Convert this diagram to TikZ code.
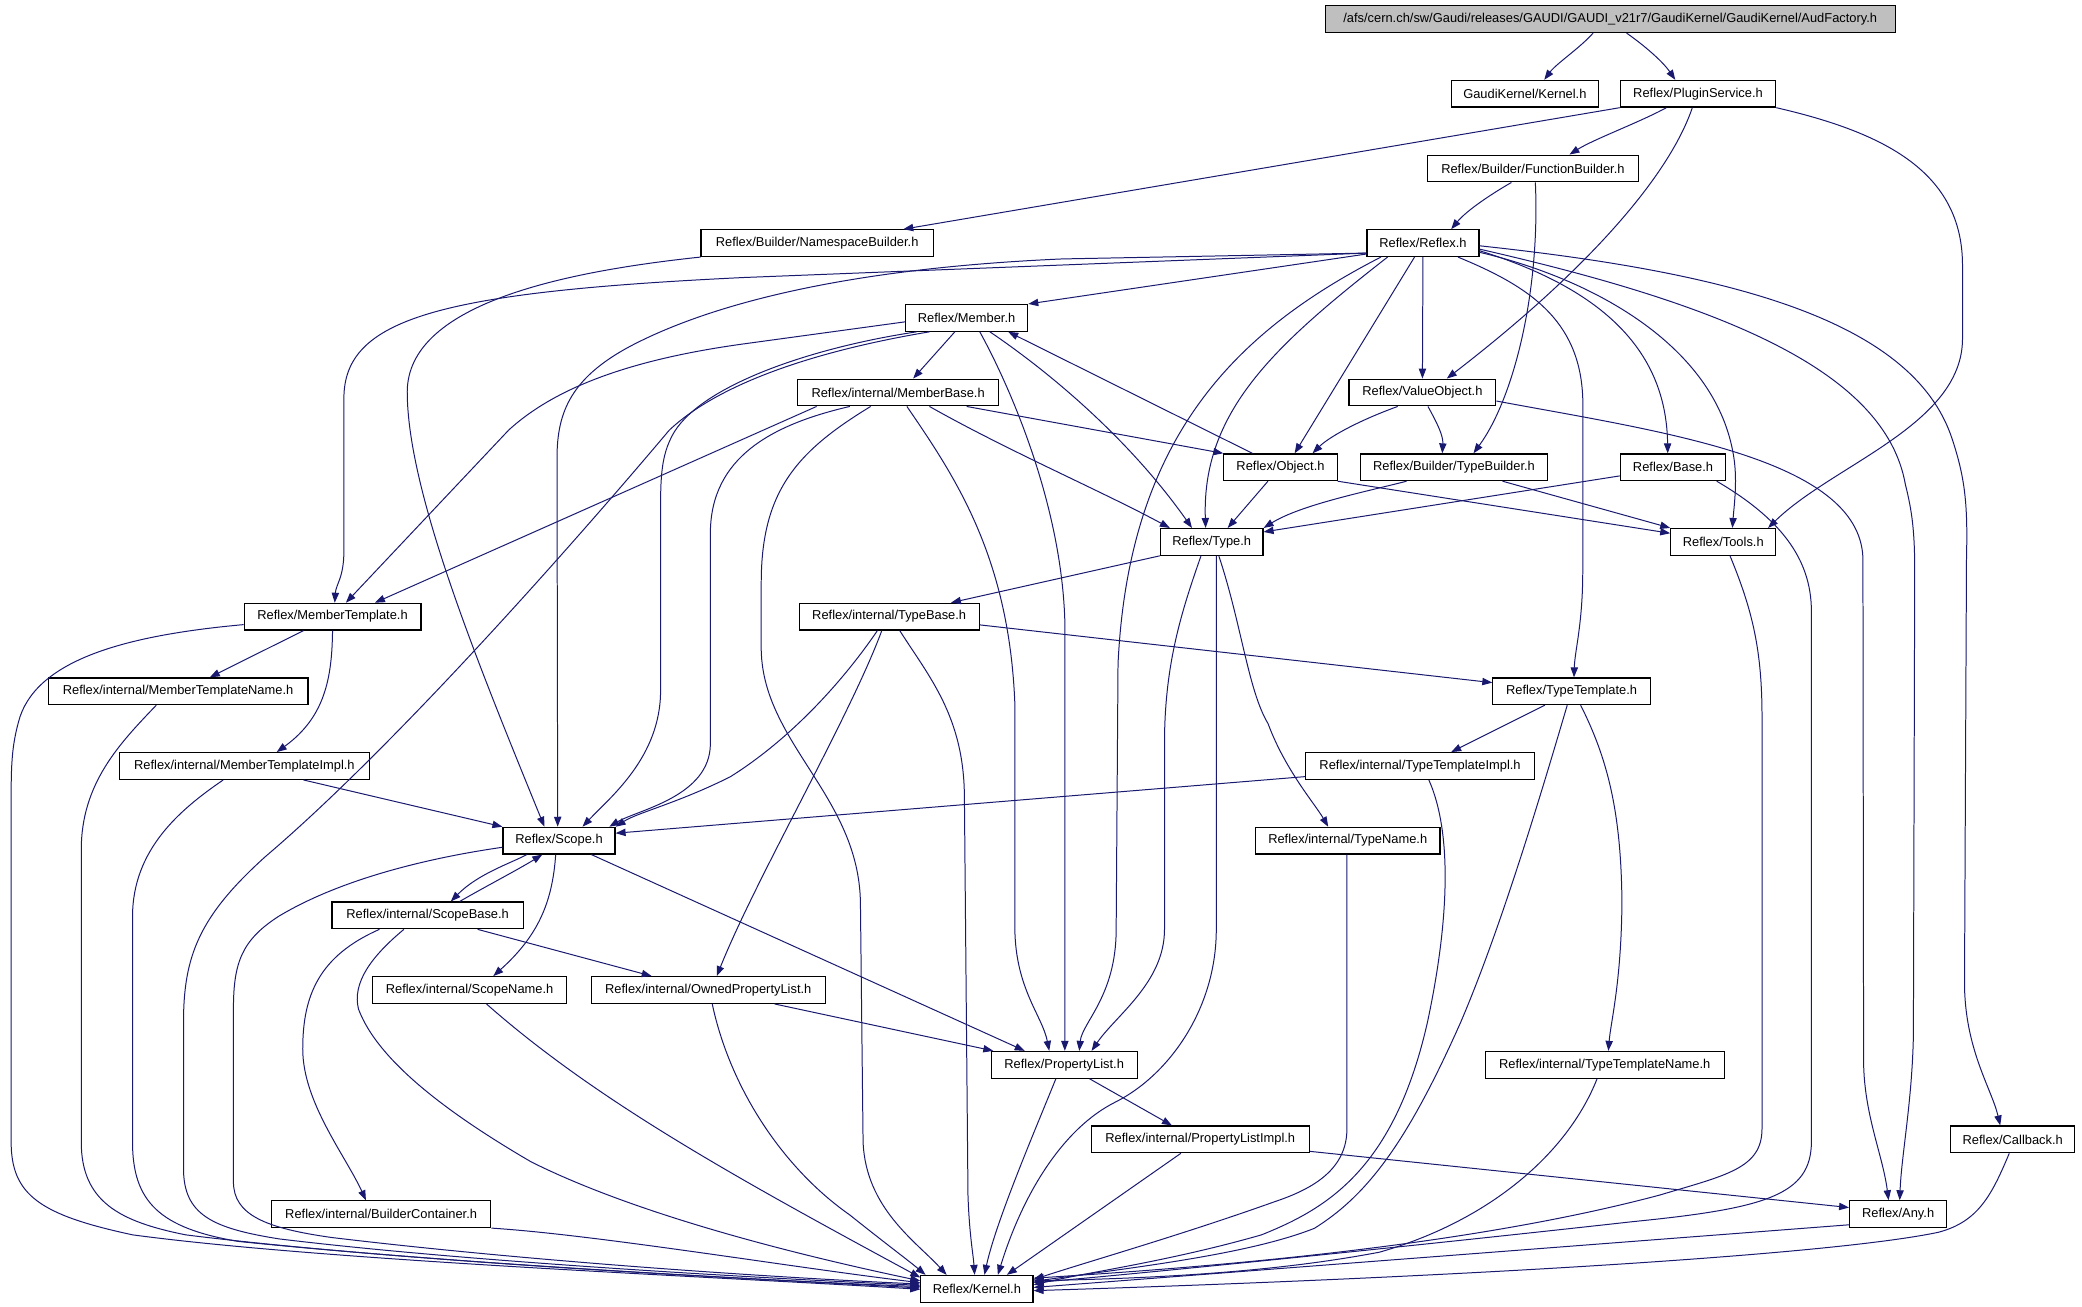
\documentclass[tikz,border=0pt]{standalone}
\usepackage{fontspec}
\newfontfamily\lblfont{Liberation Sans}
\usetikzlibrary{arrows.meta}
\definecolor{edgeblue}{RGB}{25,25,112}
\definecolor{rootgray}{RGB}{191,191,191}
\begin{document}
\begin{tikzpicture}[x=1pt,y=-1pt,
  box/.style={draw=black,line width=0.9pt,fill=white,inner sep=0pt,minimum height=20.1pt,
    font=\lblfont\fontsize{9.7}{11}\selectfont,text=black},
  e/.style={draw=edgeblue,line width=0.75pt,-{Triangle[length=7.5pt,width=5.5pt]},fill=none}]
\useasboundingbox (0,0) rectangle (1568,983.6);
\fill[white] (0,0) rectangle (1568,983.6);
% nodes
\node[box,minimum width=429.4pt,fill=rootgray] (aud) at (1212.7,14.4) {/afs/cern.ch/sw/Gaudi/releases/GAUDI/GAUDI\_v21r7/GaudiKernel/GaudiKernel/AudFactory.h};
\node[box,minimum width=111pt] (gk) at (1148.4,70.6) {GaudiKernel/Kernel.h};
\node[box,minimum width=117pt] (plugin) at (1278.8,70.6) {Reflex/PluginService.h};
\node[box,minimum width=158.7pt] (fb) at (1154.45,126.9) {Reflex/Builder/FunctionBuilder.h};
\node[box,minimum width=174.8pt] (nb) at (615.4,183.1) {Reflex/Builder/NamespaceBuilder.h};
\node[box,minimum width=84.3pt] (reflex) at (1071.65,183.1) {Reflex/Reflex.h};
\node[box,minimum width=92.1pt] (member) at (727.95,239.4) {Reflex/Member.h};
\node[box,minimum width=151.6pt] (mbase) at (676.4,295.6) {Reflex/internal/MemberBase.h};
\node[box,minimum width=110.5pt] (vobj) at (1071.25,295.6) {Reflex/ValueObject.h};
\node[box,minimum width=85.3pt] (object) at (964.35,351.9) {Reflex/Object.h};
\node[box,minimum width=141pt] (tbuilder) at (1095,351.9) {Reflex/Builder/TypeBuilder.h};
\node[box,minimum width=79.4pt] (base) at (1260,351.9) {Reflex/Base.h};
\node[box,minimum width=77.3pt] (type) at (912.55,408.1) {Reflex/Type.h};
\node[box,minimum width=79pt] (tools) at (1297.8,408.1) {Reflex/Tools.h};
\node[box,minimum width=133.1pt] (mtempl) at (250.45,464.4) {Reflex/MemberTemplate.h};
\node[box,minimum width=135.5pt] (tbase) at (669.65,464.4) {Reflex/internal/TypeBase.h};
\node[box,minimum width=195.6pt] (mtname) at (134.1,520.6) {Reflex/internal/MemberTemplateName.h};
\node[box,minimum width=118.5pt] (ttempl) at (1183.55,520.6) {Reflex/TypeTemplate.h};
\node[box,minimum width=188.5pt] (mtimpl) at (184.05,576.9) {Reflex/internal/MemberTemplateImpl.h};
\node[box,minimum width=172.7pt] (ttimpl) at (1069.45,576.9) {Reflex/internal/TypeTemplateImpl.h};
\node[box,minimum width=84.4pt] (scope) at (421,633.1) {Reflex/Scope.h};
\node[box,minimum width=139pt] (tname) at (1015,633.1) {Reflex/internal/TypeName.h};
\node[box,minimum width=143.9pt] (sbase) at (322.05,689.4) {Reflex/internal/ScopeBase.h};
\node[box,minimum width=146.5pt] (sname) at (353.65,745.6) {Reflex/internal/ScopeName.h};
\node[box,minimum width=176pt] (opl) at (533.4,745.6) {Reflex/internal/OwnedPropertyList.h};
\node[box,minimum width=109.9pt] (plist) at (801.45,801.9) {Reflex/PropertyList.h};
\node[box,minimum width=180.1pt] (ttname) at (1208.55,801.9) {Reflex/internal/TypeTemplateName.h};
\node[box,minimum width=164.3pt] (plimpl) at (903.95,858.1) {Reflex/internal/PropertyListImpl.h};
\node[box,minimum width=93.4pt] (callback) at (1515.8,858.1) {Reflex/Callback.h};
\node[box,minimum width=165.3pt] (bcont) at (287.05,914.4) {Reflex/internal/BuilderContainer.h};
\node[box,minimum width=73.1pt] (any) at (1429.55,914.4) {Reflex/Any.h};
\node[box,minimum width=84.5pt] (kernel) at (735.75,970.6) {Reflex/Kernel.h};
% edges
\path[e] ([xshift=-12.9pt]aud.south) .. controls (1190,36) and (1172,48) .. ([xshift=14.6pt]gk.north);
\path[e] ([xshift=12.3pt]aud.south) .. controls (1238,34) and (1252,46) .. ([xshift=-17.1pt]plugin.north);
\path[e] (plugin.south west) -- ([xshift=64.9pt]nb.north);
\path[e] ([xshift=-23.8pt]plugin.south) .. controls (1235,92) and (1200,105) .. ([xshift=27.55pt]fb.north);
\path[e] ([xshift=-4.3pt]plugin.south) .. controls (1258,130) and (1200,200) .. ([xshift=18.35pt]vobj.north);
\path[e] (plugin.south east) .. controls (1420,100) and (1478,130) .. (1478,200) -- (1478,255) .. controls (1478,320) and (1380,350) .. ([xshift=33.8pt]tools.north);
\path[e] ([xshift=-16.15pt]fb.south) .. controls (1125,145) and (1105,158) .. ([xshift=21.25pt]reflex.north);
\path[e] ([xshift=1.85pt]fb.south) .. controls (1160,220) and (1140,300) .. ([xshift=14.7pt]tbuilder.north);
\path[e] (nb.south west) .. controls (420,205) and (307,230) .. (306.7,295) .. controls (306.7,370) and (360,500) .. ([xshift=-11pt]scope.north);
% Reflex.h
\path[e] ([yshift=3pt]reflex.south west) -- (560,209) .. controls (330,220) and (259,240) .. (259,300) -- (259,415) .. controls (259,435) and (253,440) .. ([xshift=1.65pt]mtempl.north);
\path[e] ([yshift=3pt]reflex.south west) -- (800,195) .. controls (640,202) and (540,228) .. (480,258) .. controls (430,283) and (419.5,310) .. (419.5,345) -- ([xshift=-1pt]scope.north);
\path[e] ([yshift=2.3pt]reflex.south west) -- (member.north east);
\path[e] ([xshift=-26.65pt]reflex.south) .. controls (960,260) and (905,310) .. ([xshift=-4.55pt]type.north);
\path[e] ([xshift=-31.65pt]reflex.south) .. controls (930,250) and (850,330) .. (842,500) -- (840.6,700) .. controls (840.6,750) and (815,770) .. ([xshift=11.35pt]plist.north);
\path[e] ([xshift=-6.35pt]reflex.south) -- ([xshift=10.65pt]object.north);
\path[e] (reflex.south) -- (vobj.north);
\path[e] ([xshift=26.35pt]reflex.south) .. controls (1150,215) and (1190,240) .. (1192,300) -- (1192,430) .. controls (1192,470) and (1186,490) .. ([xshift=1.85pt]ttempl.north);
\path[e] ([yshift=-5.7pt]reflex.east) .. controls (1215,220) and (1255,270) .. ([xshift=-4pt]base.north);
\path[e] ([yshift=-6.9pt]reflex.east) .. controls (1200,210) and (1290,260) .. (1305,340) .. controls (1309,360) and (1306,380) .. ([xshift=6.9pt]tools.north);
\path[e] ([yshift=-4.5pt]reflex.east) .. controls (1300,230) and (1420,280) .. (1435,365) .. controls (1440,385) and (1442,400) .. (1442,430) -- (1441,780) .. controls (1440,830) and (1432,870) .. ([xshift=1.15pt]any.north);
\path[e] ([yshift=-2pt]reflex.east) .. controls (1300,205) and (1440,240) .. (1470,330) .. controls (1480,360) and (1482,380) .. (1481,420) -- (1479.5,740) .. controls (1479.5,790) and (1500,820) .. ([xshift=-9.4pt]callback.north);
% Member.h
\path[e] ([yshift=-3pt]member.west) -- (560,259) .. controls (480,270) and (420,290) .. (383,324) -- ([xshift=10.05pt]mtempl.north);
\path[e] ([xshift=-37.65pt]member.south) .. controls (610,262) and (530,290) .. (508,325) .. controls (499,340) and (497.5,355) .. (497.5,380) -- (497.5,520) .. controls (497.5,570) and (460,600) .. ([xshift=17.7pt]scope.north);
\path[e] ([xshift=-27.95pt]member.south) .. controls (610,265) and (540,290) .. (504,324) .. controls (440,400) and (300,560) .. (200,645) .. controls (150,690) and (138.2,720) .. (138.2,770) -- (138.2,880) .. controls (138.2,915) and (160,925) .. (210,933) .. controls (350,950) and (560,962) .. ([yshift=2.6pt]kernel.west);
\path[e] ([xshift=-8.85pt]member.south) -- ([xshift=11.3pt]mbase.north);
\path[e] ([xshift=9.95pt]member.south) .. controls (760,290) and (800,380) .. (802,470) -- ([xshift=0.5pt]plist.north);
\path[e] ([xshift=17.55pt]member.south) .. controls (790,280) and (850,330) .. ([xshift=-14.85pt]type.north);
% Object.h
\path[e] ([xshift=-21.15pt]object.north) -- ([xshift=31.35pt]member.south);
\path[e] ([xshift=-9.45pt]object.south) -- ([xshift=12.05pt]type.north);
\path[e] (object.south east) -- ([yshift=-4pt]tools.north west);
% MemberBase.h
\path[e] ([xshift=-61.4pt]mbase.south) -- ([xshift=31.95pt]mtempl.north);
\path[e] ([xshift=-36.4pt]mbase.south) .. controls (580,320) and (536,345) .. (535,400) -- (535,560) .. controls (535,600) and (480,610) .. ([xshift=37.9pt]scope.north);
\path[e] ([xshift=-20.7pt]mbase.south) .. controls (600,340) and (573,370) .. (573.3,440) -- (573.3,490) .. controls (575,560) and (647,600) .. (648,680) -- (650,860) .. controls (652,910) and (690,935) .. ([xshift=-22.85pt]kernel.north);
\path[e] ([xshift=6.6pt]mbase.south) .. controls (720,360) and (760,420) .. (764.3,530) -- (764.3,700) .. controls (765,745) and (785,765) .. ([xshift=-11.25pt]plist.north);
\path[e] ([xshift=23.6pt]mbase.south) .. controls (760,340) and (830,370) .. ([xshift=-31.55pt]type.north);
\path[e] ([xshift=51.6pt]mbase.south) -- (object.north west);
% ValueObject.h
\path[e] ([xshift=-18.65pt]vobj.south) .. controls (1020,318) and (1000,330) .. ([xshift=24.15pt]object.north);
\path[e] ([xshift=4.15pt]vobj.south) .. controls (1082,318) and (1087,328) .. ([xshift=-8.8pt]tbuilder.north);
\path[e] ([yshift=-6.4pt]vobj.east) .. controls (1250,325) and (1400,345) .. (1403,420) -- (1403.5,800) .. controls (1404,840) and (1418,870) .. ([xshift=-7.25pt]any.north);
% TypeBuilder.h, Base.h, Tools.h
\path[e] ([xshift=-35.7pt]tbuilder.south) .. controls (1030,370) and (980,380) .. (type.north east);
\path[e] ([xshift=36.6pt]tbuilder.south) -- (tools.north west);
\path[e] ([yshift=-6.5pt]base.west) -- ([yshift=-3pt]type.north east);
\path[e] ([xshift=32.9pt]base.south) .. controls (1340,390) and (1364,420) .. (1364.2,460) -- (1364.2,860) .. controls (1364,900) and (1330,910) .. (1230,920) .. controls (1050,940) and (850,960) .. ([yshift=4.6pt]kernel.east);
\path[e] ([xshift=5.1pt]tools.south) .. controls (1320,460) and (1327,490) .. (1327,540) -- (1327,850) .. controls (1327,880) and (1300,885) .. (1250,900) .. controls (1100,940) and (900,955) .. ([yshift=8pt]kernel.east);
% Type.h
\path[e] (type.south west) -- ([xshift=46.55pt]tbase.north);
\path[e] ([xshift=-8.05pt]type.south) .. controls (890,460) and (877,500) .. (877,560) -- (877,700) .. controls (877,740) and (840,765) .. ([xshift=20.65pt]plist.north);
\path[e] ([xshift=3.45pt]type.south) -- (916,700) .. controls (916,760) and (880,810) .. (840,830) .. controls (800,850) and (770,900) .. ([xshift=15.75pt]kernel.north);
\path[e] ([xshift=5.35pt]type.south) .. controls (935,470) and (940,520) .. (955,545) .. controls (968,580) and (990,605) .. ([xshift=-14.7pt]tname.north);
\path[e] ([xshift=-0.6pt]tname.south) -- (1014.4,850) .. controls (1014.4,880) and (990,895) .. (960,905) .. controls (890,930) and (820,950) .. ([yshift=7pt]kernel.east);
% TypeBase.h
\path[e] ([yshift=-6.2pt]tbase.east) -- ([yshift=-4pt]ttempl.north west);
\path[e] ([xshift=-8.85pt]tbase.south) .. controls (630,520) and (590,560) .. (550,585) .. controls (510,605) and (480,612) .. (scope.north east);
\path[e] ([xshift=-5.55pt]tbase.south) .. controls (640,540) and (570,660) .. ([xshift=6.4pt]opl.north);
\path[e] ([xshift=7.95pt]tbase.south) .. controls (700,510) and (726,540) .. (726.3,600) -- (729,900) .. controls (730,930) and (733,945) .. ([xshift=-1.75pt]kernel.north);
% TypeTemplate.h
\path[e] ([xshift=-20.05pt]ttempl.south) -- ([xshift=23.45pt]ttimpl.north);
\path[e] ([xshift=6.85pt]ttempl.south) .. controls (1210,570) and (1221,610) .. (1221.5,680) .. controls (1221,740) and (1213,770) .. ([xshift=2.75pt]ttname.north);
\path[e] ([xshift=-3.25pt]ttempl.south) .. controls (1160,600) and (1130,700) .. (1100,770) .. controls (1060,860) and (1030,900) .. (990,925) .. controls (940,945) and (850,955) .. ([yshift=5.6pt]kernel.east);
\path[e] ([yshift=-8pt]ttimpl.west) -- ([yshift=5.6pt]scope.east);
\path[e] ([xshift=6.65pt]ttimpl.south) .. controls (1095,630) and (1090,700) .. (1075,770) .. controls (1050,880) and (1000,910) .. (950,930) .. controls (880,950) and (820,958) .. ([yshift=3pt]kernel.east);
\path[e] ([xshift=-5.75pt]ttname.south) .. controls (1180,870) and (1120,920) .. (1039,943) .. controls (950,960) and (850,963) .. ([yshift=6pt]kernel.east);
% MemberTemplate.h
\path[e] ([xshift=-21.85pt]mtempl.south) -- ([xshift=23.9pt]mtname.north);
\path[e] (mtempl.south) .. controls (250,510) and (245,540) .. ([xshift=24.35pt]mtimpl.north);
\path[e] ([yshift=-6pt]mtempl.west) .. controls (100,478) and (30,495) .. (15,540) .. controls (9,560) and (8.4,575) .. (8.4,600) -- (8.4,860) .. controls (8.4,900) and (30,915) .. (100,930) .. controls (250,950) and (550,962) .. ([yshift=-0.4pt]kernel.west);
\path[e] ([xshift=-16.4pt]mtname.south) .. controls (90,560) and (61.2,590) .. (61.2,640) -- (61.2,860) .. controls (61.2,905) and (90,920) .. (140,930) .. controls (300,950) and (550,962) .. ([yshift=0.6pt]kernel.west);
\path[e] ([xshift=44.55pt]mtimpl.south) -- (scope.north west);
\path[e] ([xshift=-15.95pt]mtimpl.south) .. controls (135,610) and (100,640) .. (99.8,690) -- (99.8,860) .. controls (99.8,905) and (120,925) .. (180,935) .. controls (350,952) and (550,963) .. ([yshift=1.6pt]kernel.west);
% Scope.h
\path[e] ([xshift=-24.3pt]scope.south) .. controls (385,650) and (360,658) .. ([xshift=17.45pt]sbase.north);
\path[e] ([xshift=24.15pt]sbase.north) .. controls (365,668) and (390,655) .. ([xshift=-12.6pt]scope.south);
\path[e] ([xshift=-2.5pt]scope.south) .. controls (416,680) and (405,705) .. ([xshift=17.85pt]sname.north);
\path[e] ([xshift=24.4pt]scope.south) -- ([xshift=-29.75pt]plist.north);
\path[e] ([yshift=-5pt]scope.west) .. controls (330,645) and (260,660) .. (210,690) .. controls (182,708) and (175.8,725) .. (175.8,760) -- (175.8,890) .. controls (175.8,915) and (200,925) .. (250,932) .. controls (400,950) and (580,962) .. ([yshift=3.6pt]kernel.west);
% ScopeBase.h
\path[e] ([xshift=37.65pt]sbase.south) -- ([xshift=-42.6pt]opl.north);
\path[e] ([xshift=-36.25pt]sbase.south) .. controls (240,720) and (228,750) .. (228,790) .. controls (228,830) and (260,870) .. ([xshift=-11.45pt]bcont.north);
\path[e] ([xshift=-17.85pt]sbase.south) .. controls (280,720) and (265,740) .. (270,760) .. controls (285,800) and (340,840) .. (400,875) .. controls (480,915) and (600,945) .. ([yshift=6pt]kernel.west);
% others
\path[e] ([xshift=12.75pt]sname.south) .. controls (450,830) and (560,890) .. ([yshift=-2pt]kernel.north west);
\path[e] ([xshift=50pt]opl.south) -- ([xshift=2pt]plist.north west);
\path[e] ([xshift=3pt]opl.south) .. controls (550,820) and (590,880) .. (640,915) .. controls (665,935) and (685,950) .. ([xshift=4pt]kernel.north west);
\path[e] ([xshift=19.05pt]plist.south) -- ([xshift=-21.35pt]plimpl.north);
\path[e] ([xshift=-6.25pt]plist.south) .. controls (780,850) and (750,920) .. ([xshift=5.65pt]kernel.north);
\path[e] ([yshift=-9pt]plimpl.east) -- ([yshift=5pt]any.west);
\path[e] ([xshift=-14.65pt]plimpl.south) -- ([xshift=22.55pt]kernel.north);
\path[e] (bcont.south east) .. controls (450,930) and (600,955) .. ([yshift=4.6pt]kernel.west);
\path[e] ([yshift=-8pt]any.west) -- ([yshift=1pt]kernel.east);
\path[e] ([xshift=-2.6pt]callback.south) .. controls (1500,900) and (1490,920) .. (1460,928) .. controls (1380,945) and (1100,962) .. ([yshift=-1.4pt]kernel.east);
\end{tikzpicture}
\end{document}
